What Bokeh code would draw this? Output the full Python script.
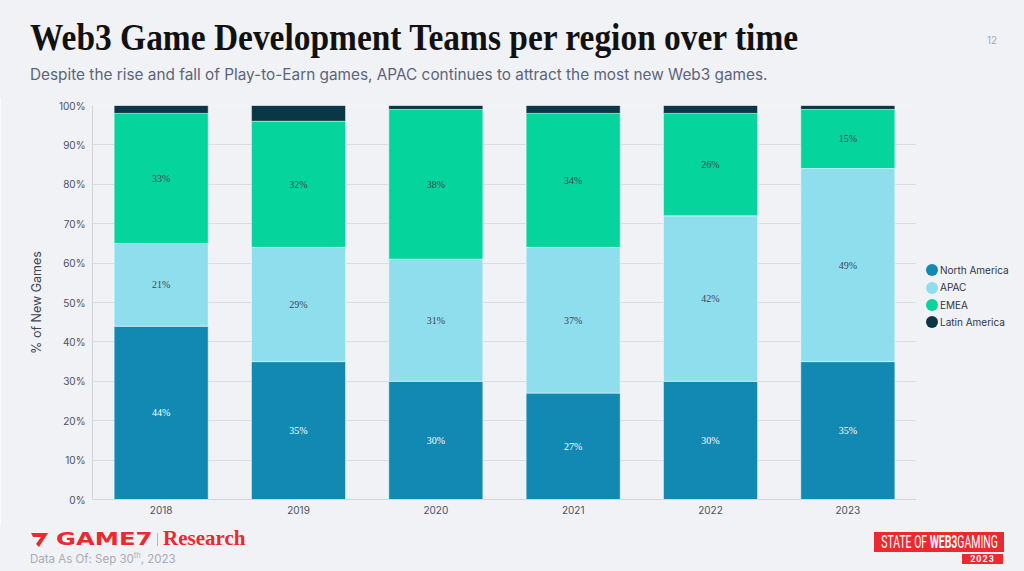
from bokeh.plotting import figure
from bokeh.layouts import column, row
from bokeh.models import (ColumnDataSource, FactorRange, Range1d, FixedTicker,
                          PrintfTickFormatter, LabelSet, Div)
from bokeh.embed import file_html
from bokeh.resources import INLINE

# ---------------- data ----------------
years = ["2018", "2019", "2020", "2021", "2022", "2023"]
north_america = [44, 35, 30, 27, 30, 35]
apac = [21, 29, 31, 37, 42, 49]
emea = [33, 32, 38, 34, 26, 15]
latin_america = [2, 4, 1, 2, 2, 1]
series_names = ["North America", "APAC", "EMEA", "Latin America"]
series_colors = ["#1189b2", "#8fdeee", "#06d49d", "#0a3746"]
y_ticks = [0, 10, 20, 30, 40, 50, 60, 70, 80, 90, 100]

title_text = "Web3 Game Development Teams per region over time"
subtitle_text = "Despite the rise and fall of Play-to-Earn games, APAC continues to attract the most new Web3 games."
page_number = "12"
data_note = ("Data As Of: Sep 30", "th", ", 2023")
brand = ("GAME7", "Research")
badge = ("STATE OF ", "WEB3", "GAMING", "2023")

BG = "#f1f2f6"
RED = "#ea2a2f"
W = 1024
HEAD_H = 97
MAIN_H = 428
FOOT_H = 571 - HEAD_H - MAIN_H
PLOT_W = 916
LEG_W = W - PLOT_W


def box(left, top, inner, style=""):
    return (f'<div style="position:absolute;left:{left}px;top:{top}px;'
            f'white-space:nowrap;{style}">{inner}</div>')


# ---------------- header (HTML text) ----------------
head_html = (
    f'<div style="position:relative;width:{W}px;height:{HEAD_H + 1}px;background:{BG};overflow:hidden;">'
    + box(30, 18, title_text,
          "font-family:'Liberation Serif';font-weight:bold;font-size:38px;line-height:38px;"
          "color:#111111;transform:scaleX(0.88);transform-origin:0 0;")
    + box(30, 67, subtitle_text,
          "font-family:Inter;font-size:15.35px;line-height:15px;color:#5b6478;")
    + box(982, 35, page_number,
          "width:20px;text-align:center;font-family:Inter;font-size:10px;line-height:10px;color:#a8abb3;")
    + '</div>'
)
head = Div(text=head_html, width=W, height=HEAD_H, margin=(0, 0, 0, 0))

# ---------------- main chart ----------------
src = ColumnDataSource(dict(year=years, na=north_america, apac=apac,
                            emea=emea, latam=latin_america))

p = figure(x_range=FactorRange(*years), y_range=Range1d(0, 100),
           width=PLOT_W, height=MAIN_H, output_backend="svg", toolbar_location=None,
           min_border_left=92, min_border_right=0, min_border_top=8,
           min_border_bottom=26, margin=(0, 0, 0, 0))
p.background_fill_color = BG
p.border_fill_color = BG
p.outline_line_color = None

p.vbar_stack(["na", "apac", "emea", "latam"], x="year", width=0.685,
             color=series_colors, source=src,
             line_color="#ffffff", line_width=0.7, line_alpha=0.7)

p.xgrid.grid_line_color = None
p.ygrid.grid_line_color = "#dcdde2"
p.ygrid.grid_line_width = 1
p.yaxis.ticker = FixedTicker(ticks=y_ticks)
p.yaxis.formatter = PrintfTickFormatter(format="%d%%")
for ax in (p.xaxis[0], p.yaxis[0]):
    ax.axis_line_color = "#d3d5da"
    ax.major_tick_line_color = None
    ax.minor_tick_line_color = None
    ax.major_tick_out = 0
    ax.major_tick_in = 0
    ax.minor_tick_out = 0
    ax.major_label_text_font = "Inter"
    ax.major_label_text_color = "#4a5160"
    ax.major_label_text_font_size = "10px"
p.xaxis.major_label_standoff = 6
p.yaxis.major_label_standoff = 7
p.yaxis.axis_label = "% of New Games"
p.yaxis.axis_label_text_font = "Inter"
p.yaxis.axis_label_text_font_style = "normal"
p.yaxis.axis_label_text_font_size = "12.5px"
p.yaxis.axis_label_text_color = "#3d4452"
p.yaxis.axis_label_standoff = 12

# segment labels (midpoints computed from the data)
na_mid, ap_mid, em_mid = [], [], []
na_txt, ap_txt, em_txt = [], [], []
for a, b, c in zip(north_america, apac, emea):
    na_mid.append(a / 2)
    ap_mid.append(a + b / 2)
    em_mid.append(a + b + c / 2)
    na_txt.append(f"{a}%")
    ap_txt.append(f"{b}%")
    em_txt.append(f"{c}%")
lab_src = ColumnDataSource(dict(
    x=years * 3,
    y=na_mid + ap_mid + em_mid,
    t=na_txt + ap_txt + em_txt,
    c=["#ffffff"] * 6 + ["#3c4354"] * 12,
))
p.add_layout(LabelSet(x="x", y="y", text="t", source=lab_src, text_color="c",
                      text_align="center", text_baseline="middle",
                      text_font="Inter", text_font_size="10px"))

# ---------------- legend (HTML, right of the plot) ----------------
leg_rows = ""
for i, (name, col) in enumerate(zip(series_names, series_colors)):
    top = 166 + i * 17.4
    leg_rows += box(10, top,
                    f'<span style="display:inline-block;width:12px;height:12px;border-radius:6px;'
                    f'background:{col};vertical-align:middle;margin-right:2px;"></span>'
                    f'<span style="vertical-align:middle;">{name}</span>',
                    "font-family:Inter;font-size:10px;line-height:12px;color:#2f3542;")
leg_html = (f'<div style="position:relative;width:{LEG_W}px;height:{MAIN_H}px;background:{BG};">'
            + leg_rows + '</div>')
leg = Div(text=leg_html, width=LEG_W, height=MAIN_H, margin=(0, 0, 0, 0))

# ---------------- footer (HTML text) ----------------
logo_svg = ('<svg width="17" height="14" viewBox="0 0 17 14">'
            f'<polygon points="0,0 17,0 8,14 5,11 10,4 2,4" fill="{RED}"/></svg>')
foot_html = (
    f'<div style="position:relative;width:{W}px;height:{FOOT_H}px;background:{BG};overflow:hidden;">'
    + box(31, 8, logo_svg, "line-height:0;")
    + box(56, 5, brand[0],
          f"font-family:'DejaVu Sans';font-weight:bold;font-size:18px;line-height:18px;color:{RED};"
          "transform:scaleX(1.35);transform-origin:0 0;")
    + box(157, 8, "", "width:1px;height:13px;background:#f3a1a4;")
    + box(163, 3, brand[1],
          f"font-family:'Liberation Serif';font-weight:bold;font-size:21px;line-height:21px;color:{RED};")
    + box(30, 29, f'{data_note[0]}<sup style="font-size:7.5px;vertical-align:5px;line-height:0;">{data_note[1]}</sup>{data_note[2]}',
          "font-family:Inter;font-size:11.5px;line-height:11.5px;color:#a6abb5;")
    + box(874, 7,
          f'<span style="display:inline-block;transform:scaleX(0.58);transform-origin:50% 50%;">'
          f'{badge[0]}<b>{badge[1]}</b>{badge[2]}</span>',
          f"width:130px;height:20px;background:{RED};color:#ffffff;font-family:Roboto;font-size:18px;"
          "line-height:20px;display:flex;justify-content:center;align-items:center;overflow:visible;")
    + box(962, 29, badge[3],
          f"width:41px;height:10px;background:{RED};color:#ffffff;font-family:Roboto;font-weight:bold;"
          "font-size:9px;line-height:10px;text-align:center;letter-spacing:1px;")
    + '</div>'
)
foot = Div(text=foot_html, width=W, height=FOOT_H, margin=(0, 0, 0, 0))

page = column(head, row(p, leg, spacing=0), foot, spacing=0)
open("out.html", "w").write(file_html(page, INLINE))
